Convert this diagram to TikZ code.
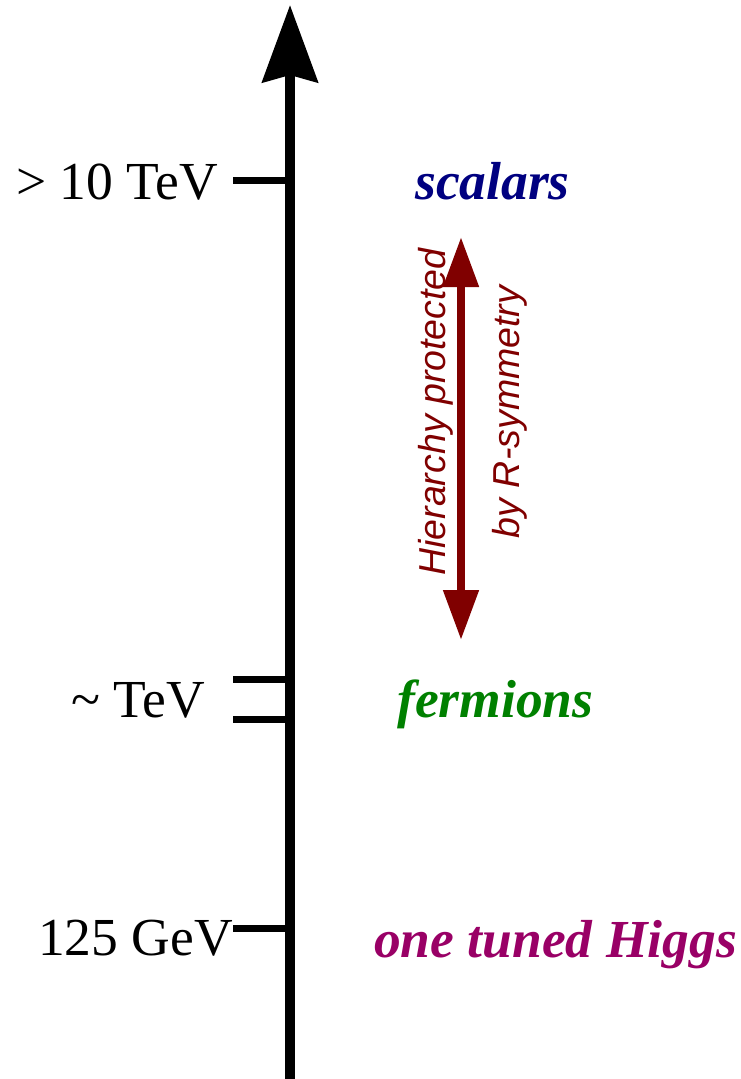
\documentclass[tikz,border=0pt]{standalone}
\usepackage{fontspec}
\setmainfont{Liberation Serif}
\newfontfamily\hiersans{Liberation Sans}
\usetikzlibrary{positioning,arrows.meta}
\definecolor{scalarblue}{HTML}{000080}
\definecolor{fermiongreen}{HTML}{008000}
\definecolor{higgspurple}{HTML}{990066}
\definecolor{hierred}{HTML}{800000}

\begin{document}
\begin{tikzpicture}[x=1pt,y=-1pt,
  tick/.style={line width=7pt},
  scalelabel/.style={font=\fontsize{53.5}{62}\selectfont, inner sep=0pt, anchor=base east},
  partlabel/.style={font=\fontsize{53.5}{62}\selectfont\bfseries\itshape, inner sep=0pt, anchor=base west},
  hierlabel/.style={font=\fontsize{37.5}{44}\selectfont\hiersans\itshape, text=hierred, inner sep=0pt, rotate=90}]
\useasboundingbox (0,0) rectangle (740,1079);

% energy axis
\coordinate (axisbot) at (290,1079);
\coordinate (axistop) at (290,5);
\draw[line width=10pt, -{Stealth[length=77pt,width=55pt,inset=7pt]}] (axisbot) -- (axistop);

% ticks
\coordinate (t10) at (233,180);
\coordinate (tTeVa) at (233,679);
\coordinate (tTeVb) at (233,719);
\coordinate (t125) at (233,928);
\foreach \t in {t10,tTeVa,tTeVb,t125}
  \draw[tick] (\t) -- (\t -| axisbot);

% scale labels
\node[scalelabel] (lab10) at (218,199) {> 10 TeV};
\node[scalelabel] (labTeV) at (205,717) {\char"007E{} TeV};
\node[scalelabel] (lab125) at (233,955) {125 GeV};

% particle content
\node[partlabel, text=scalarblue] (scalars) at (415,199) {scalars};
\node[partlabel, text=fermiongreen] (fermions) at (397,717) {fermions};
\node[partlabel, text=higgspurple] (higgs) at (374,957) {one tuned Higgs};

% hierarchy arrow
\coordinate (hiertop) at (461,237);
\coordinate (hierbot) at (461,640);
\draw[hierred, line width=8pt, {Triangle[length=50pt,width=34pt]}-{Triangle[length=50pt,width=34pt]}] (hierbot) -- (hiertop);
\node[hierlabel] (hierA) at (436,412) {Hierarchy protected};
\node[hierlabel] (hierB) at (510,412) {by R-symmetry};
\end{tikzpicture}
\end{document}
